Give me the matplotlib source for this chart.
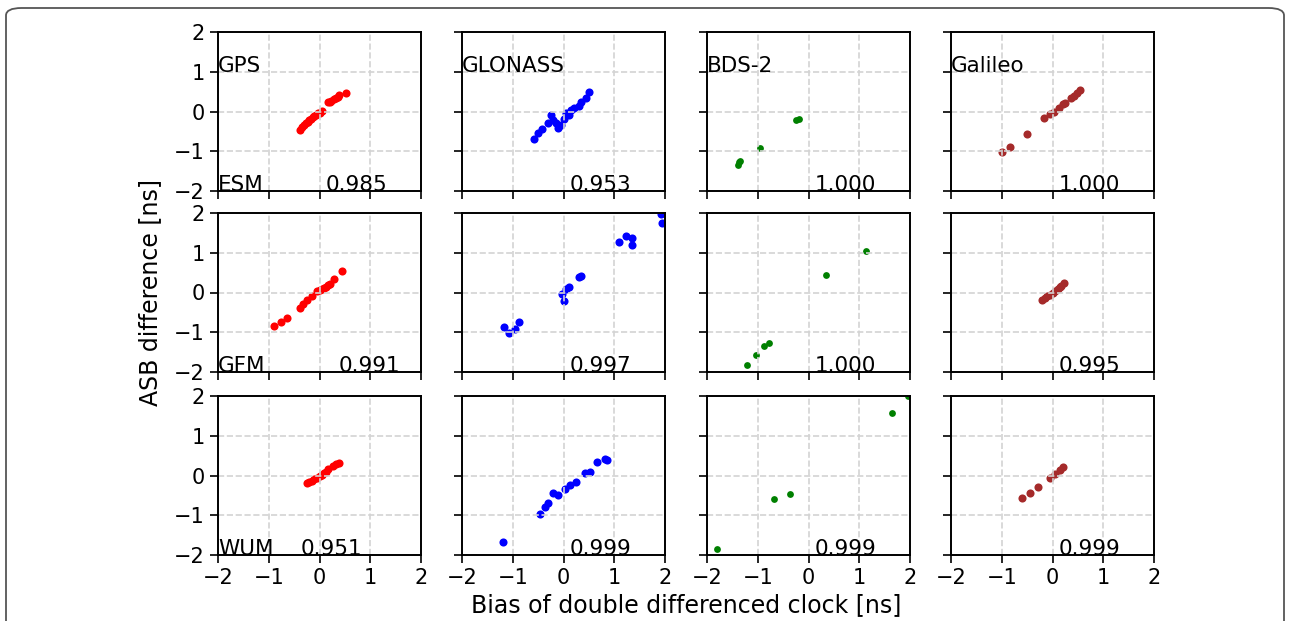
import matplotlib
matplotlib.use('Agg')
import matplotlib.pyplot as plt
from matplotlib.patches import FancyBboxPatch

systems = ["GPS", "GLONASS", "BDS-2", "Galileo"]
products = ["ESM", "GFM", "WUM"]
colors = ["red", "blue", "green", "brown"]

# (x, y) pairs: bias of double differenced clock vs ASB difference, per product/system
gps_esm_x = [-0.38, -0.35, -0.3, -0.26, -0.22, -0.2, -0.16, -0.13, -0.1, -0.07, -0.03, 0.0, 0.05, 0.16, 0.2, 0.23, 0.29, 0.33, 0.36, 0.38, 0.52]
gps_esm_y = [-0.46, -0.4, -0.34, -0.3, -0.26, -0.22, -0.19, -0.15, -0.12, -0.08, -0.05, -0.03, 0.02, 0.23, 0.25, 0.27, 0.31, 0.34, 0.36, 0.42, 0.47]
glo_esm_x = [-0.58, -0.5, -0.42, -0.3, -0.25, -0.2, -0.15, -0.1, -0.05, 0.0, 0.05, 0.1, 0.15, 0.2, 0.3, 0.35, 0.45, 0.5]
glo_esm_y = [-0.68, -0.55, -0.45, -0.28, -0.1, -0.22, -0.3, -0.42, -0.35, -0.2, -0.05, -0.1, 0.05, 0.1, 0.15, 0.25, 0.35, 0.48]
bds_esm_x = [-1.38, -1.37, -1.35, -0.95, -0.25, -0.18]
bds_esm_y = [-1.35, -1.28, -1.25, -0.93, -0.22, -0.18]
gal_esm_x = [-1.0, -0.84, -0.51, -0.16, -0.05, 0.02, 0.13, 0.2, 0.24, 0.36, 0.43, 0.49, 0.55]
gal_esm_y = [-1.02, -0.89, -0.56, -0.17, -0.07, 0.0, 0.1, 0.19, 0.21, 0.34, 0.4, 0.47, 0.53]

gps_gfm_x = [-0.9, -0.76, -0.65, -0.39, -0.33, -0.24, -0.14, -0.04, 0.0, 0.04, 0.08, 0.12, 0.16, 0.2, 0.29, 0.45]
gps_gfm_y = [-0.85, -0.73, -0.65, -0.38, -0.3, -0.18, -0.08, 0.03, 0.06, 0.1, 0.12, 0.15, 0.18, 0.22, 0.35, 0.53]
glo_gfm_x = [-1.18, -1.07, -0.95, -0.87, -0.03, 0.01, 0.05, 0.1, 0.31, 0.35, 1.1, 1.24, 1.35, 1.34, 1.92, 1.94]
glo_gfm_y = [-0.87, -1.01, -0.92, -0.74, -0.04, -0.21, 0.08, 0.15, 0.39, 0.42, 1.28, 1.43, 1.36, 1.2, 1.97, 1.74]
bds_gfm_x = [-1.22, -1.03, -0.87, -0.78, 0.35, 1.13]
bds_gfm_y = [-1.83, -1.57, -1.35, -1.27, 0.43, 1.05]
gal_gfm_x = [-0.2, -0.15, -0.1, -0.05, 0.0, 0.05, 0.1, 0.14, 0.17, 0.23]
gal_gfm_y = [-0.2, -0.15, -0.1, -0.06, 0.0, 0.05, 0.1, 0.13, 0.17, 0.24]

gps_wum_x = [-0.25, -0.2, -0.14, -0.1, -0.04, 0.0, 0.04, 0.08, 0.12, 0.16, 0.27, 0.33, 0.39]
gps_wum_y = [-0.19, -0.17, -0.14, -0.1, -0.06, -0.02, 0.02, 0.06, 0.1, 0.17, 0.24, 0.28, 0.32]
glo_wum_x = [-1.19, -0.46, -0.36, -0.3, -0.2, -0.1, 0.03, 0.13, 0.25, 0.42, 0.52, 0.66, 0.82, 0.86]
glo_wum_y = [-1.67, -0.98, -0.78, -0.7, -0.45, -0.48, -0.35, -0.25, -0.17, 0.06, 0.1, 0.35, 0.42, 0.38]
bds_wum_x = [-1.8, -0.67, -0.37, 1.65, 1.97]
bds_wum_y = [-1.86, -0.58, -0.47, 1.58, 2.0]
gal_wum_x = [-0.6, -0.44, -0.29, -0.05, 0.05, 0.15, 0.21]
gal_wum_y = [-0.57, -0.45, -0.29, -0.06, 0.04, 0.14, 0.22]

data = [
    [(gps_esm_x, gps_esm_y), (glo_esm_x, glo_esm_y), (bds_esm_x, bds_esm_y), (gal_esm_x, gal_esm_y)],
    [(gps_gfm_x, gps_gfm_y), (glo_gfm_x, glo_gfm_y), (bds_gfm_x, bds_gfm_y), (gal_gfm_x, gal_gfm_y)],
    [(gps_wum_x, gps_wum_y), (glo_wum_x, glo_wum_y), (bds_wum_x, bds_wum_y), (gal_wum_x, gal_wum_y)],
]

correlations = [
    ["0.985", "0.953", "1.000", "1.000"],
    ["0.991", "0.997", "1.000", "0.995"],
    ["0.951", "0.999", "0.999", "0.999"],
]
corr_xpos = [[0.13, 0.13, 0.13, 0.13],
             [0.37, 0.13, 0.13, 0.13],
             [-0.37, 0.13, 0.13, 0.13]]

W, H = 1290, 621
fig = plt.figure(figsize=(W / 100, H / 100), dpi=100)

# rounded frame around the figure
frame = FancyBboxPatch((6 / W, -30 / H), 1278 / W, (H - 8 + 30) / H,
                       boxstyle="round,pad=0,rounding_size=0.012",
                       transform=fig.transFigure, fill=False,
                       edgecolor="#555555", linewidth=1.3)
fig.patches.append(frame)

col_left = [218, 462, 707, 951]
ax_w = 203
row_top = [32, 213, 396]
ax_h = 159

for r in range(3):
    for c in range(4):
        ax = fig.add_axes([col_left[c] / W, 1 - (row_top[r] + ax_h) / H, ax_w / W, ax_h / H])
        x, y = data[r][c]
        size = 24 if c == 2 else 34
        ax.scatter(x, y, s=size, color=colors[c], zorder=1, linewidths=0)
        ax.set_xlim(-2, 2)
        ax.set_ylim(-2, 2)
        ax.set_xticks([-2, -1, 0, 1, 2])
        ax.set_yticks([-2, -1, 0, 1, 2])
        ax.set_axisbelow(False)
        ax.grid(True, linestyle="--", color="#d3d3d3", linewidth=1.2)
        ax.tick_params(labelsize=15, length=6, width=1.2)
        if c != 0:
            ax.set_yticklabels([])
        if r != 2:
            ax.set_xticklabels([])
        for sp in ax.spines.values():
            sp.set_linewidth(1.4)
            sp.set_zorder(5)
        if r == 0:
            ax.text(-2, 1, systems[c], fontsize=15.5, ha="left", va="baseline", zorder=3)
        if c == 0:
            ax.text(-2, -2, products[r], fontsize=15.5, ha="left", va="baseline", zorder=3)
        ax.text(corr_xpos[r][c], -2, correlations[r][c], fontsize=15.5,
                ha="left", va="baseline", zorder=3)

fig.text(150 / W, 1 - 292 / H, "ASB difference [ns]", fontsize=17,
         rotation=90, ha="center", va="center")
fig.text(686 / W, 1 - 605 / H, "Bias of double differenced clock [ns]", fontsize=17,
         ha="center", va="center")

fig.savefig("out.png", dpi=100)
plt.close(fig)
